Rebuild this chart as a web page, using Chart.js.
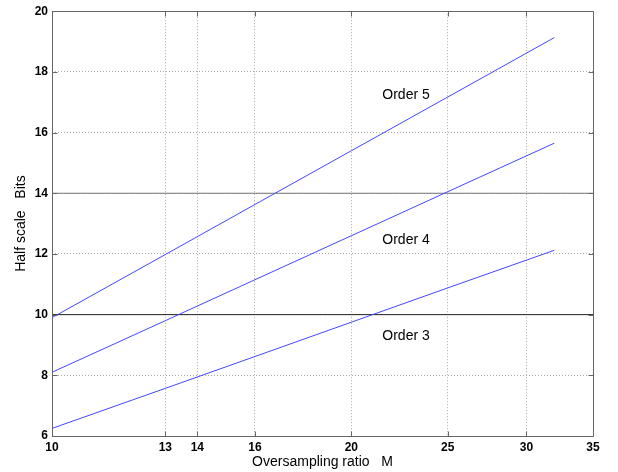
<!DOCTYPE html>
<html>
<head>
<meta charset="utf-8">
<script src="https://cdn.jsdelivr.net/npm/chart.js@4/dist/chart.umd.min.js"></script>
<style>
html,body{margin:0;padding:0;background:#fff;}
#wrap{width:618px;height:472px;position:relative;}
</style>
</head>
<body>
<div id="wrap"><canvas id="c" width="618" height="472"></canvas></div>
<script>
// ---- data ----
const ratioM = [10, 13, 16, 20, 25, 32];
const order3 = [6.25, 7.57, 8.62, 9.75, 10.88, 12.12];
const order4 = [8.10, 9.80, 11.15, 12.60, 14.05, 15.65];
const order5 = [9.90, 11.98, 13.63, 15.40, 17.17, 19.13];
const refX = [10, 35];
const ref10 = [10, 10];
const ref14 = [14, 14];
const xTickValues = [10, 13, 14, 16, 20, 25, 30, 35];
const yTickValues = [6, 8, 10, 12, 14, 16, 18, 20];
const seriesNames = ['Order 3', 'Order 4', 'Order 5'];
const xTitle = 'Oversampling ratio   M';
const yTitle = 'Half scale   Bits';

const pts = (xs, ys) => xs.map((x, i) => ({x: x, y: ys[i]}));
const FONT = "'Liberation Sans', Arial, Helvetica, sans-serif";

const framePlugin = {
  id: 'frame',
  afterDraw(chart) {
    const ctx = chart.ctx, a = chart.chartArea;
    const xs = chart.scales.x, ys = chart.scales.y;
    ctx.save();
    ctx.strokeStyle = '#666';
    ctx.lineWidth = 1;
    const L = Math.round(a.left) + 0.5, R = Math.round(a.right) + 0.5;
    const T = Math.round(a.top) + 0.5, B = Math.round(a.bottom) + 0.5;
    ctx.strokeRect(L, T, R - L, B - T);
    ctx.beginPath();
    const tl = 5;
    xTickValues.forEach(v => {
      const px = Math.round(xs.getPixelForValue(v)) + 0.5;
      ctx.moveTo(px, B); ctx.lineTo(px, B - tl);
      ctx.moveTo(px, T); ctx.lineTo(px, T + tl);
    });
    yTickValues.forEach(v => {
      const py = Math.round(ys.getPixelForValue(v)) + 0.5;
      ctx.moveTo(L, py); ctx.lineTo(L + tl, py);
      ctx.moveTo(R, py); ctx.lineTo(R - tl, py);
    });
    ctx.stroke();
    // titles
    ctx.fillStyle = '#000';
    ctx.font = '14px ' + FONT;
    ctx.textAlign = 'center';
    ctx.textBaseline = 'middle';
    ctx.fillText(xTitle, (a.left + a.right) / 2, 462);
    ctx.save();
    ctx.translate(21, (a.top + a.bottom) / 2);
    ctx.rotate(-Math.PI / 2);
    ctx.fillText(yTitle, 0, 0);
    ctx.restore();
    // series labels
    const labelPos = [[22.7, 9.3], [22.7, 12.45], [22.7, 17.22]];
    seriesNames.forEach((n, i) => {
      ctx.fillText(n, xs.getPixelForValue(labelPos[i][0]), ys.getPixelForValue(labelPos[i][1]));
    });
    ctx.restore();
  }
};

const blue = 'rgb(70,70,255)';
new Chart(document.getElementById('c'), {
  type: 'line',
  data: {
    datasets: [
      {label: seriesNames[0], data: pts(ratioM, order3), borderColor: blue, borderWidth: 1, pointRadius: 0, tension: 0},
      {label: seriesNames[1], data: pts(ratioM, order4), borderColor: blue, borderWidth: 1, pointRadius: 0, tension: 0},
      {label: seriesNames[2], data: pts(ratioM, order5), borderColor: blue, borderWidth: 1, pointRadius: 0, tension: 0},
      {label: 'ref10', data: pts(refX, ref10), borderColor: '#222', borderWidth: 1, pointRadius: 0},
      {label: 'ref14', data: pts(refX, ref14), borderColor: '#777', borderWidth: 1, pointRadius: 0}
    ]
  },
  options: {
    responsive: false,
    animation: false,
    devicePixelRatio: 1,
    layout: {padding: {left: 0, right: 25, top: 11, bottom: 0}},
    plugins: {legend: {display: false}, tooltip: {enabled: false}, title: {display: false}},
    scales: {
      x: {
        type: 'logarithmic', min: 10, max: 35,
        afterBuildTicks: s => { s.ticks = xTickValues.map(v => ({value: v})); },
        afterFit: s => { s.height = 36; },
        ticks: {color: '#000', font: {family: FONT, size: 12, weight: 'bold'}, padding: 4, maxRotation: 0, autoSkip: false,
          callback: v => String(v)},
        grid: {color: '#aaa', lineWidth: 1, drawTicks: false},
        border: {display: false, dash: [1, 2]}
      },
      y: {
        type: 'linear', min: 6, max: 20,
        afterBuildTicks: s => { s.ticks = yTickValues.map(v => ({value: v})); },
        afterFit: s => { s.width = 52; },
        ticks: {color: '#000', font: {family: FONT, size: 12, weight: 'bold'}, padding: 4, callback: v => String(v)},
        grid: {color: '#aaa', lineWidth: 1, drawTicks: false},
        border: {display: false, dash: [1, 2]}
      }
    }
  },
  plugins: [framePlugin]
});
</script>
</body>
</html>
